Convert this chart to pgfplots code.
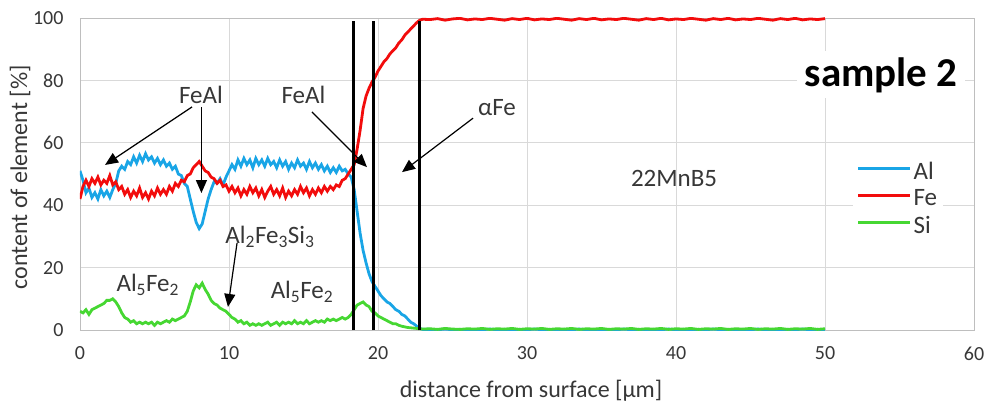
\documentclass[border=0pt]{standalone}
\usepackage{fontspec}
\setmainfont{Carlito}
\usepackage{pgfplots}
\pgfplotsset{compat=1.18}
\usepackage{pgfplotstable}
\usetikzlibrary{arrows.meta}
\definecolor{alblue}{RGB}{25,165,230}
\definecolor{fered}{RGB}{242,12,12}
\definecolor{sigreen}{RGB}{70,215,50}
\definecolor{gridgray}{RGB}{217,217,217}
\definecolor{axisgray}{RGB}{190,190,190}
\definecolor{txtgray}{RGB}{55,55,55}

\pgfplotstableread{
x Al Fe Si
0.0 51 42 6
0.2 48 46 5.5
0.4 44 48 6.5
0.6 45.5 46 5
0.8 42.5 48.5 6.5
1.0 44 47 7
1.2 42 49 7.5
1.4 45 46.5 8
1.6 43 48 8.5
1.8 44.5 47 9.5
2.0 42.5 49.5 9.5
2.2 45 46.5 10
2.4 47 47.5 9
2.6 51 45 7.5
2.8 52.5 46 5.5
3.0 51.5 43.5 4
3.2 54 45 3.5
3.4 53 42.5 2.5
3.6 55.5 44.5 3
3.8 53.5 43 2
4.0 56 45.5 2.5
4.2 54 42.5 2
4.4 56.5 44 2.5
4.6 54.5 42 2
4.8 55.5 44.5 2.5
5.0 53.5 43 1.5
5.2 55 45.5 2.5
5.4 53 43.5 2
5.6 54.5 45 2.5
5.8 52.5 43.5 3
6.0 53.5 46 2.5
6.2 51.5 44.5 3.5
6.4 52.5 47 3
6.6 50 46 3.5
6.8 49.5 48 4
7.0 47 47.5 4.5
7.2 46 49.5 6
7.4 42 50 9
7.6 38 52 12.5
7.8 34.5 53 14.5
8.0 32.5 54 13.5
8.2 34 52.5 15
8.4 38 51 13
8.6 42 50.5 11.5
8.8 45 49 9.5
9.0 47.5 48.5 8.5
9.2 47 47 8
9.4 48.5 48 7
9.6 46.5 46 6.5
9.8 49 46.5 6
10.0 51 44.5 5
10.2 53 46 4
10.4 51.5 44 3.5
10.6 54.5 45.5 2.5
10.8 52.5 43 3
11.0 55 45 2
11.2 53 43.5 2.5
11.4 54.5 46 1.5
11.6 52 44 2
11.8 55 45.5 1.5
12.0 53 43 2
12.2 54.5 45 1.5
12.4 52.5 42.5 2
12.6 55 44.5 2.5
12.8 53 46 1.5
13.0 54 43.5 2
13.2 52 45 2.5
13.4 54.5 43 1.5
13.6 52.5 45.5 2.5
13.8 54 42.5 2
14.0 51.5 44.5 2.5
14.2 53.5 43 2
14.4 52 45 3
14.6 54.5 43.5 2
14.8 52.5 46 2.5
15.0 53.5 44 2
15.2 51.5 45.5 3
15.4 54 43 2
15.6 52 45 2.5
15.8 53.5 43.5 3
16.0 51.5 45.5 2.5
16.2 53 44 3
16.4 51 46 2.5
16.6 52.5 44.5 3.5
16.8 50.5 46 3
17.0 52 45 3.5
17.2 50.5 46.5 3
17.4 52.5 46 3.5
17.6 51 48 4
17.8 51.5 48.5 3.5
18.0 50 50 4
18.2 49 51.5 5
18.4 45 53 6.5
18.6 38 58 8
18.8 31 64 8.5
19.0 25.5 71 9
19.2 21.5 75 8
19.4 18 77.5 7.5
19.6 15.5 79.5 6
19.8 14 81 5.5
20.0 12.5 83 4.5
20.2 11 84.5 4
20.4 10 86 3.5
20.6 9 87 3
20.8 8.5 88.5 2.5
21.0 7.5 89.5 2
21.2 6.5 90.5 2
21.4 6 92 1.5
21.6 5 93 1.2
21.8 4.5 94.5 1
22.0 3.5 95.5 0.8
22.2 2.5 96.5 0.7
22.4 2 97.5 0.6
22.6 1.2 98.5 0.5
22.8 0.5 99.3 0.4
23.0 0.2 99.6 0.3
23.5 0.2 99.5 0.4
24 0.1 99.8 0.2
24.5 0.3 99.3 0.5
25 0.1 99.7 0.3
25.5 0.2 99.9 0.2
26 0.0 99.4 0.4
26.5 0.2 99.7 0.3
27 0.1 99.5 0.5
27.5 0.3 99.9 0.2
28 0.1 99.6 0.4
28.5 0.2 99.3 0.3
29 0.0 99.8 0.5
29.5 0.2 99.5 0.2
30 0.1 99.9 0.4
30.5 0.3 99.4 0.3
31 0.1 99.7 0.5
31.5 0.2 99.5 0.2
32 0.0 99.9 0.4
32.5 0.2 99.6 0.3
33 0.1 99.3 0.5
33.5 0.3 99.8 0.2
34 0.1 99.5 0.4
34.5 0.2 99.9 0.3
35 0.0 99.4 0.5
35.5 0.2 99.7 0.2
36 0.1 99.5 0.4
36.5 0.3 99.9 0.3
37 0.1 99.6 0.5
37.5 0.2 99.3 0.2
38 0.0 99.8 0.4
38.5 0.2 99.5 0.3
39 0.1 99.9 0.5
39.5 0.3 99.4 0.2
40 0.1 99.7 0.4
40.5 0.2 99.5 0.3
41 0.0 99.9 0.5
41.5 0.2 99.6 0.2
42 0.1 99.3 0.4
42.5 0.3 99.8 0.3
43 0.1 99.5 0.5
43.5 0.2 99.9 0.2
44 0.0 99.4 0.4
44.5 0.2 99.7 0.3
45 0.1 99.5 0.5
45.5 0.3 99.9 0.2
46 0.1 99.6 0.4
46.5 0.2 99.3 0.3
47 0.0 99.8 0.5
47.5 0.2 99.5 0.2
48 0.1 99.9 0.4
48.5 0.3 99.4 0.3
49 0.1 99.7 0.5
49.5 0.2 99.5 0.2
50 0.1 99.8 0.4
}\data

\begin{document}
\begin{tikzpicture}
\begin{axis}[
  name=ax, at={(0,0)}, anchor=south west,
  scale only axis, width=894pt, height=312pt,
  xmin=0, xmax=60, ymin=0, ymax=100,
  xtick={0,10,...,60}, ytick={0,20,...,100},
  major tick length=0pt,
  grid=major,
  major grid style={draw=gridgray, line width=0.8pt},
  axis line style={draw=axisgray, line width=0.8pt},
  tick label style={font=\fontsize{20}{24}\selectfont, text=txtgray},
  /pgf/number format/assume math mode=true,
  xticklabel style={yshift=-13pt},
  yticklabel style={xshift=-13pt},
  xlabel={distance from surface [µm]},
  ylabel={content of element [\%]},
  xlabel style={at={(axis description cs:0.5045,-0.215)}, anchor=base,
    font=\fontsize{24}{28}\selectfont, text=txtgray},
  ylabel style={at={(axis description cs:-0.067,0.489)}, anchor=center,
    font=\fontsize{24}{28}\selectfont, text=txtgray},
  legend style={at={(axis description cs:0.864,0.557)}, anchor=north west,
    draw=none, fill=white, font=\fontsize{25}{30}\selectfont, text=txtgray,
    row sep=4.5pt, inner xsep=4pt, inner ysep=4pt,
    nodes={inner sep=2pt}},
  legend cell align=left,
  legend image code/.code={\draw[#1, line width=3pt] (0pt,0.3em) -- (52pt,0.3em);},
]
\addplot[alblue, line width=2.8pt] table[x=x, y=Al] {\data};
\addlegendentry{Al}
\addplot[fered, line width=2.8pt] table[x=x, y=Fe] {\data};
\addlegendentry{Fe}
\addplot[sigreen, line width=2.8pt] table[x=x, y=Si] {\data};
\addlegendentry{Si}

\addplot[black, line width=2.6pt, forget plot] coordinates {(18.35,0) (18.35,99)};
\addplot[black, line width=2.6pt, forget plot] coordinates {(19.7,0) (19.7,99)};
\addplot[black, line width=2.6pt, forget plot] coordinates {(22.8,0) (22.8,99)};

\node[font=\fontsize{25}{30}\selectfont, text=txtgray, inner sep=0pt] at (axis cs:8.12,75.3) {FeAl};
\node[font=\fontsize{25}{30}\selectfont, text=txtgray, inner sep=0pt] at (axis cs:15.0,75.3) {FeAl};
\node[font=\fontsize{25}{30}\selectfont, text=txtgray, inner sep=0pt] at (axis cs:27.99,71.3) {αFe};
\node[font=\fontsize{25}{30}\selectfont, text=txtgray, inner sep=0pt] at (axis cs:39.87,48.7) {22MnB5};
\node[font=\fontsize{25}{30}\selectfont, text=txtgray, inner sep=0pt] at (axis cs:4.55,14.4) {Al\textsubscript{5}Fe\textsubscript{2}};
\node[font=\fontsize{25}{30}\selectfont, text=txtgray, inner sep=0pt] at (axis cs:14.9,12.2) {Al\textsubscript{5}Fe\textsubscript{2}};
\node[font=\fontsize{25}{30}\selectfont, text=txtgray, inner sep=0pt] at (axis cs:12.75,29.8) {Al\textsubscript{2}Fe\textsubscript{3}Si\textsubscript{3}};
\node[font=\bfseries\fontsize{41}{48}\selectfont, text=black, fill=white, inner xsep=8pt, inner ysep=6pt, anchor=base] at (axis cs:53.76,78.2) {sample 2};

\draw[-{Triangle[length=13pt,width=11pt]}, line width=1.2pt] (axis cs:7.52,71.5) -- (axis cs:1.68,52.9);
\draw[-{Triangle[length=13pt,width=11pt]}, line width=1.2pt] (axis cs:8.15,71.5) -- (axis cs:8.15,43.9);
\draw[-{Triangle[length=13pt,width=11pt]}, line width=1.2pt] (axis cs:15.57,69.9) -- (axis cs:19.26,52.2);
\draw[-{Triangle[length=13pt,width=11pt]}, line width=1.2pt] (axis cs:26.38,67.9) -- (axis cs:21.61,50.6);
\draw[-{Triangle[length=13pt,width=11pt]}, line width=1.2pt] (axis cs:10.54,27.9) -- (axis cs:9.93,7.4);
\end{axis}
\pgfresetboundingbox
\path[use as bounding box] ([shift={(-80pt,-77pt)}]ax.south west) rectangle ([shift={(15pt,18pt)}]ax.north east);
\end{tikzpicture}
\end{document}
